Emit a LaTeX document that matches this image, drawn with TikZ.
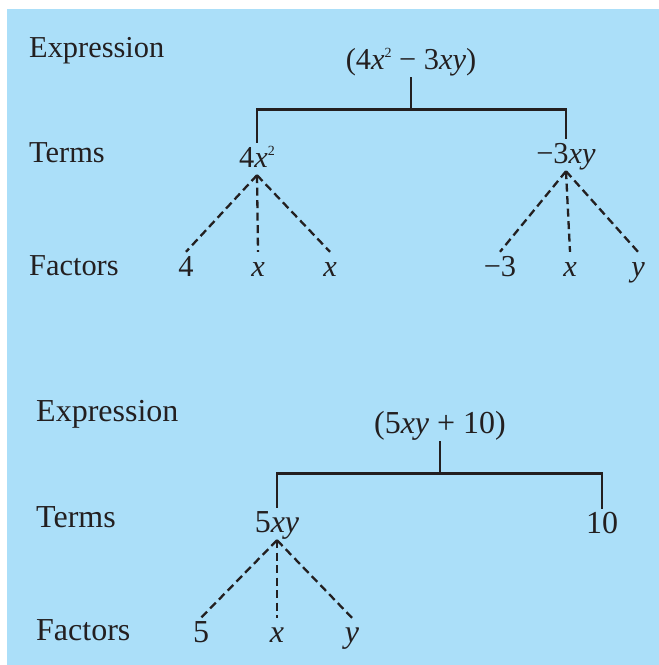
\documentclass[tikz,border=0pt]{standalone}
\usepackage{fontspec}
\setmainfont{Liberation Serif}
\definecolor{panel}{RGB}{171,223,249}
\definecolor{ink}{RGB}{35,31,32}
\newcommand{\sqr}{{\fontsize{14}{14}\selectfont\raisebox{11.5pt}{2}}}
\begin{document}
\begin{tikzpicture}[x=1pt, y=-1pt,
    rowname/.style={anchor=base west, inner sep=0pt, text=ink},
    term/.style={anchor=base, inner sep=0pt, text=ink, text height=24pt, text depth=8pt},
    tree/.style={draw=ink, line width=2.8pt},
    branch/.style={draw=ink, line width=2.3pt, dash pattern=on 8pt off 4.5pt}]
  \useasboundingbox (0,0) rectangle (659,665);
  \fill[panel] (7,9) rectangle (659,665);
  % first expression
  \begin{scope}[font=\fontsize{30.4}{36}\selectfont]
    \node [rowname] (expr1) at (29,57) {Expression};
    \node [rowname] (terms1) at (29,162) {Terms};
    \node [rowname] (fact1) at (29,275) {Factors};
    \node [term] (e1) at (411,69) {(4\textit{x}\sqr{} − 3\textit{xy})};
    \node [term] (t1) at (257,167) {4\textit{x}\sqr};
    \node [term] (t2) at (566,163) {−3\textit{xy}};
    \node [term] (f1) at (186,276) {4};
    \node [term] (f2) at (258,276) {\textit{x}};
    \node [term] (f3) at (330,276) {\textit{x}};
    \node [term] (f4) at (500,276) {−3};
    \node [term] (f5) at (570,276) {\textit{x}};
    \node [term] (f6) at (638,276) {\textit{y}};
    \draw [tree] (e1.south) -- ++(0,32) coordinate (j1);
    \draw [tree] (t1.north) |- (j1) -| (t2.north);
    \foreach \f in {f1,f2,f3}
      \draw [branch] (t1.south) -- (\f.north);
    \foreach \f in {f4,f5,f6}
      \draw [branch] (t2.south) -- (\f.north);
  \end{scope}
  % second expression
  \begin{scope}[font=\fontsize{32}{38}\selectfont]
    \node [rowname] (expr2) at (36,421) {Expression};
    \node [rowname] (terms2) at (36,527) {Terms};
    \node [rowname] (fact2) at (36,640) {Factors};
    \node [term] (e2) at (440,433) {(5\textit{xy} + 10)};
    \node [term] (t3) at (277,532) {5\textit{xy}};
    \node [term] (t4) at (602,533) {10};
    \node [term] (f7) at (201,642) {5};
    \node [term] (f8) at (277,642) {\textit{x}};
    \node [term] (f9) at (352,642) {\textit{y}};
    \draw [tree] (e2.south) -- ++(0,32) coordinate (j2);
    \draw [tree] (t3.north) |- (j2) -| (t4.north);
    \foreach \f in {f7,f8,f9}
      \draw [branch] (t3.south) -- (\f.north);
  \end{scope}
\end{tikzpicture}
\end{document}
